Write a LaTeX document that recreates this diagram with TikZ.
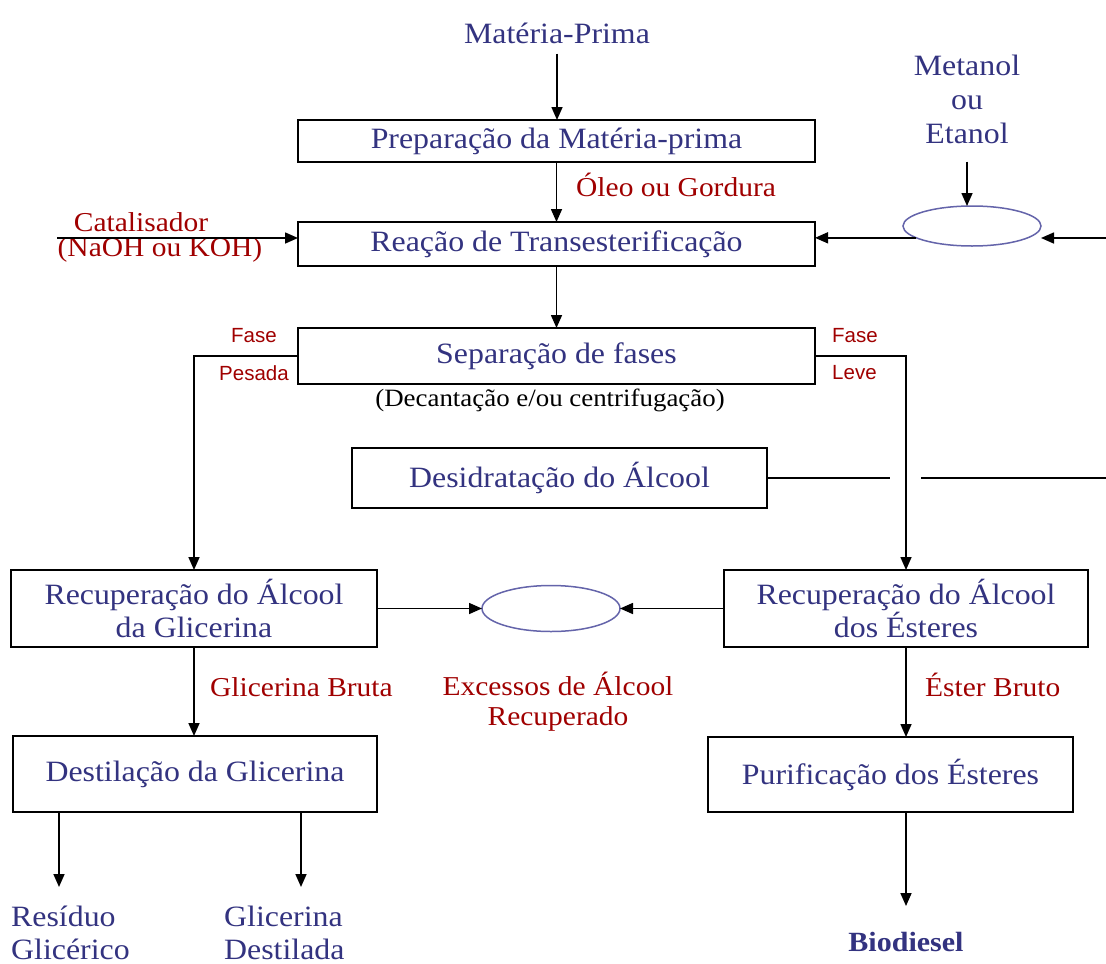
\documentclass[tikz,border=0pt]{standalone}
\usepackage{fontspec}
\setmainfont{Liberation Serif}[FakeStretch=1.08]
\newfontfamily\sansf{Liberation Sans}
\usetikzlibrary{arrows.meta,shapes.geometric,calc}
\definecolor{txtblue}{RGB}{51,51,128}
\definecolor{txtred}{RGB}{160,0,0}
\definecolor{elblue}{RGB}{100,100,170}
\begin{document}
\begin{tikzpicture}[x=1pt,y=-1pt,
  box/.style={draw=black, line width=2pt, inner sep=0pt, outer sep=0pt, text=txtblue, font=\fontsize{29.5}{33}\selectfont, align=center},
  oval/.style={ellipse, draw=elblue, line width=1.5pt, inner sep=0pt, outer sep=0pt},
  conn/.style={line width=1.6pt, draw=black},
  arr/.style={conn, -{Triangle[length=13pt,width=11pt]}},
  bluetxt/.style={text=txtblue, font=\fontsize{29.5}{34}\selectfont, align=center, inner sep=0pt},
  redtxt/.style={text=txtred, font=\fontsize{27.3}{30}\selectfont, align=center, inner sep=0pt},
  fasetxt/.style={text=txtred, font=\sansf\fontsize{20.5}{24}\selectfont, inner sep=0pt},
  notetxt/.style={text=black, font=\fontsize{24.9}{27}\selectfont, inner sep=0pt}
]
\useasboundingbox[fill=white] (0,0) rectangle (1106,964);

% top texts
\node[bluetxt] (mp) at (557,33) {Matéria-Prima};
\node[bluetxt] (met) at (967,99) {Metanol\\ou\\Etanol};

% boxes
\node[box, minimum width=517pt, minimum height=42pt] (prep) at (556.5,141) {Preparação da Matéria-prima};
\node[box, minimum width=517pt, minimum height=44pt] (reac) at (556.5,244) {Reação de Transesterificação};
\node[box, minimum width=517pt, minimum height=56pt] (sep) at (556.5,356) {Separação de fases};
\node[box, minimum width=415pt, minimum height=60pt] (desid) at (559.5,478) {Desidratação do Álcool};
\node[box, minimum width=366pt, minimum height=77pt] (recg) at (194,608.5) {Recuperação do Álcool\\da Glicerina};
\node[box, minimum width=364pt, minimum height=77pt] (rece) at (906,608.5) {Recuperação do Álcool\\dos Ésteres};
\node[box, minimum width=364pt, minimum height=76pt] (dest) at (195,774) {Destilação da Glicerina};
\node[box, minimum width=365pt, minimum height=75pt] (puri) at (890.5,774.5) {Purificação dos Ésteres};

% ellipses
\node[oval, minimum width=138pt, minimum height=40pt] (el1) at (972,226) {};
\node[oval, minimum width=138pt, minimum height=46pt] (el2) at (551,608.5) {};

% labels
\node[redtxt, anchor=west] (oleo) at (576,185) {Óleo ou Gordura};
\node[redtxt] (cat1) at (141,222) {Catalisador};
\node[redtxt] (cat2) at (160,250) {(NaOH ou KOH)};
\node[notetxt] (dec) at (550,400) {(Decantação e/ou centrifugação)};
\node[fasetxt] (f1) at (254,336) {Fase};
\node[fasetxt] (p1) at (254,373) {Pesada};
\node[fasetxt, anchor=west] (f2) at (832,336) {Fase};
\node[fasetxt, anchor=west] (l2) at (832,373) {Leve};
\node[redtxt] (exc) at (558,702) {Excessos de Álcool\\Recuperado};
\node[redtxt, anchor=west] (gb) at (210,687) {Glicerina Bruta};
\node[redtxt, anchor=west] (eb) at (925,685) {Éster Bruto};
\node[bluetxt, anchor=west, align=left, font=\fontsize{29.5}{33}\selectfont] (res) at (11,933) {Resíduo\\Glicérico};
\node[bluetxt, anchor=west, align=left, font=\fontsize{29.5}{33}\selectfont] (gd) at (224,933) {Glicerina\\Destilada};
\node[bluetxt, font=\bfseries\fontsize{27.8}{30}\selectfont] (bio) at (906,942) {Biodiesel};

% coordinates
\coordinate (catIn) at (57,238);
\coordinate (alcIn) at (1106,238);
\coordinate (gapL) at (890,478);
\coordinate (gapR) at (921,478);
\coordinate (edgeR) at (1106,478);

% connectors
\draw[arr, shorten <=10pt] (mp.south) -- (mp.south |- prep.north);
\draw[arr] (prep.south) -- (reac.north);
\draw[arr] (reac.south) -- (sep.north);
\draw[arr] (catIn) -- (catIn -| reac.west);
\draw[arr, shorten <=18pt] (met.south) -- (met.south |- el1.north);
\draw[arr] (alcIn) -- (alcIn -| el1.east);
\draw[arr] (el1.192) -- (el1.192 -| reac.east);
\draw[arr] (sep.west) -| (recg.north);
\draw[arr] (sep.east) -| (rece.north);
\draw[conn] (desid.east) -- (gapL);
\draw[conn] (gapR) -- (edgeR);
\draw[arr] (recg.east) -- (el2.west);
\draw[arr] (rece.west) -- (el2.east);
\draw[arr] (recg.south) -- (recg.south |- dest.north);
\draw[arr] (rece.south) -- (rece.south |- puri.north);
\draw[arr] ([xshift=-136pt]dest.south) -- ++(0,75);
\draw[arr] ([xshift=106pt]dest.south) -- ++(0,75);
\draw[arr, shorten >=26pt] (puri.south -| bio.north) -- (bio.north);
\end{tikzpicture}
\end{document}
